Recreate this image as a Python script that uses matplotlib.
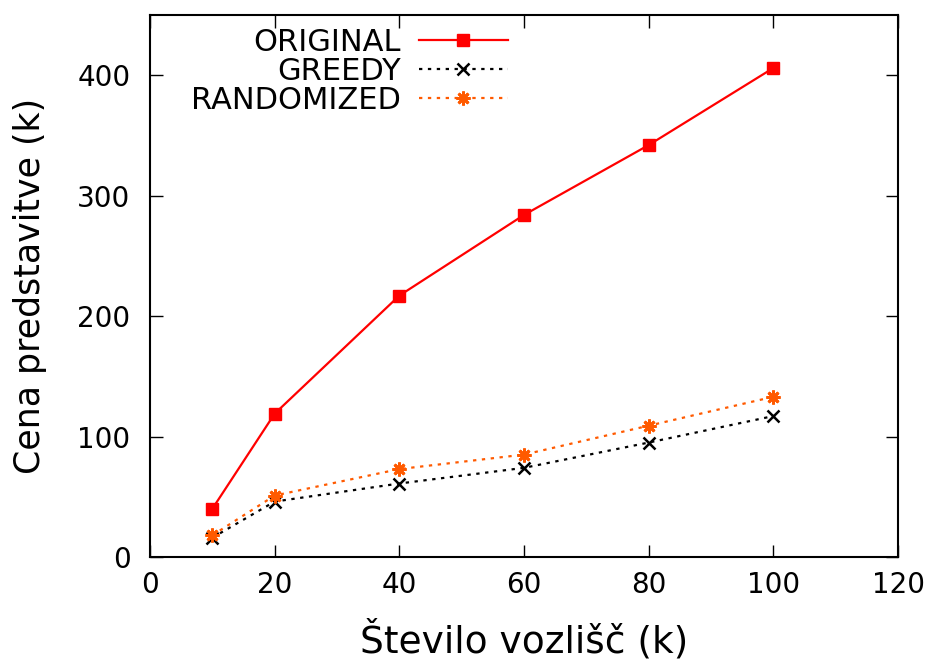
import numpy as np
import matplotlib
matplotlib.use("Agg")
import matplotlib.pyplot as plt

# donnees
n_vozlisc = [10, 20, 40, 60, 80, 100]
original = [40, 119, 217, 284, 342, 406]
greedy = [16, 46, 61, 74, 95, 117]
randomized = [18, 51, 73, 85, 109, 133]

plt.rcParams['font.family'] = ['DejaVu Sans']

fig = plt.figure(figsize=(9.34, 6.66), dpi=100)
ax = fig.add_axes([0.1606, 0.1637, 0.8009, 0.8138])

ax.plot(n_vozlisc, original, color='#ff0000', lw=1.6, marker='s', ms=8,
        label='ORIGINAL')
ax.plot(n_vozlisc, greedy, color='black', lw=1.6, ls=(0, (1.5, 2.5)),
        marker='x', ms=8, mew=1.8, label='GREEDY')
ax.plot(n_vozlisc, randomized, color='#ff5a00', lw=1.6, ls=(0, (1.5, 2.5)),
        marker=(8, 2, 0), ms=10, mew=2, label='RANDOMIZED')

ax.set_xlim(0, 120)
ax.set_ylim(0, 450)
ax.set_xticks(np.arange(0, 121, 20))
ax.set_yticks(np.arange(0, 401, 100))
ax.tick_params(direction='in', length=9, width=1, labelsize=20,
               top=True, right=True)
ax.tick_params(axis='y', pad=14)
ax.tick_params(axis='x', pad=10)
for s in ax.spines.values():
    s.set_linewidth(1.5)

ax.set_xlabel('Število vozlišč (k)', fontsize=27, labelpad=15)
ax.set_ylabel('Cena predstavitve (k)', fontsize=25, labelpad=22)

ax.legend(loc='upper left', bbox_to_anchor=(0.03, 1.01), frameon=False,
          markerfirst=False, fontsize=22, handlelength=2.9,
          labelspacing=0.0, handletextpad=0.6, borderaxespad=0.2)

fig.savefig('out.png', dpi=100)
